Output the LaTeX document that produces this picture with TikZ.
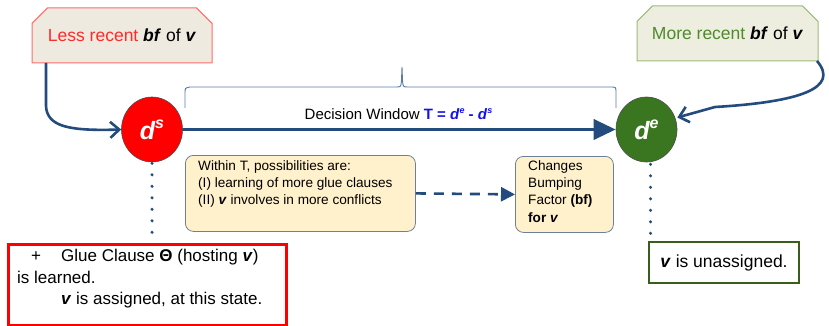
\documentclass[tikz,border=0pt]{standalone}
\usepackage{fontspec}
\setmainfont{Liberation Sans}
\usetikzlibrary{arrows.meta,shapes.misc,shapes.geometric}
\definecolor{navy}{HTML}{234B7E}
\definecolor{bracec}{HTML}{5A7AA6}
\definecolor{lessred}{HTML}{FF2A2A}
\definecolor{lessfill}{HTML}{EEEAE0}
\definecolor{lessborder}{HTML}{FF6B6B}
\definecolor{moregreen}{HTML}{4F8A2B}
\definecolor{morefill}{HTML}{EDEEE0}
\definecolor{moreborder}{HTML}{9CBB7C}
\definecolor{dgreen}{HTML}{3A7620}
\definecolor{boxgreen}{HTML}{375E1B}
\definecolor{yellowfill}{HTML}{FFF1CB}
\definecolor{yellowborder}{HTML}{6E8099}
\definecolor{tblue}{HTML}{1010F0}
\begin{document}
\begin{tikzpicture}[x=1pt,y=-1pt,
  topbox/.style={chamfered rectangle, chamfered rectangle corners={north west,north east},
     chamfered rectangle xsep=9pt, chamfered rectangle ysep=9pt, inner sep=0pt,
     minimum height=55pt, line width=1pt, font=\fontsize{17.5}{20}\selectfont},
  dnode/.style={ellipse, draw=black!70, line width=0.6pt, inner sep=0pt,
     minimum width=61pt, minimum height=65pt, text=white,
     font=\fontsize{25}{27}\selectfont\bfseries\itshape},
  mainarrow/.style={draw=navy, line width=3.6pt, -{Triangle[length=22pt,width=20pt]}},
  curvearrow/.style={draw=navy, line width=2.6pt, -{Straight Barb[length=9pt,width=16pt]}},
  dashedarrow/.style={draw=navy, line width=2.6pt, dash pattern=on 10pt off 8pt,
     -{Triangle[length=14pt,width=14pt]}},
  dotline/.style={draw=navy, line width=3.4pt, line cap=round, dash pattern=on 0pt off 11.5pt},
  ybox/.style={draw=yellowborder, fill=yellowfill, rounded corners=8pt, line width=0.8pt,
     anchor=north west, inner sep=0pt},
  ytext/.style={anchor=north west, align=left, inner sep=0pt,
     font=\fontsize{13.6}{17.4}\selectfont},
  bigtext/.style={font=\fontsize{17}{21.5}\selectfont}
]
\useasboundingbox (0,0) rectangle (829,326);

% top boxes
\node[topbox, draw=lessborder, fill=lessfill, minimum width=180pt] (less) at (122,35.5)
  {\textcolor{lessred}{Less recent} \textbf{\textit{bf}} of \textbf{\textit{v}}};
\node[topbox, draw=moreborder, fill=morefill, minimum width=181pt] (more) at (727.5,33.5)
  {\textcolor{moregreen}{More recent} \textbf{\textit{bf}} of \textbf{\textit{v}}};

% decision nodes
\node[dnode, fill=red] (ds) at (152,129.5) {d\raisebox{0.45em}{\fontsize{16}{16}\selectfont s}};
\node[dnode, fill=dgreen] (de) at (646.5,129.5) {d\raisebox{0.45em}{\fontsize{16}{16}\selectfont e}};

% main arrow
\draw[mainarrow] (ds.east) -- (de.west);

% brace
\draw[draw=bracec, line width=0.9pt]
  (185,108) -- (185,93) .. controls (185,88) .. (190,87) -- (396,87)
  .. controls (401,87) .. (401.5,80) -- (402,67)
  (402,67) -- (402.5,80) .. controls (403,87) .. (408,87) -- (611,87)
  .. controls (616,87) .. (616,93) -- (616,108);

% label
\node[font=\fontsize{15}{17}\selectfont, inner sep=0pt] (dw) at (398.5,114)
  {Decision Window \textcolor{tblue}{\textbf{T = \textit{d}\raisebox{0.4em}{\fontsize{9}{9}\selectfont\textit{e}} - \textit{d}\raisebox{0.4em}{\fontsize{9}{9}\selectfont\textit{s}}}}};

% curved arrows
\coordinate (lstart) at (46,63);
\draw[curvearrow] (lstart) -- (46,106) .. controls (47,127) and (70,131) .. (ds.west);
\coordinate (rstart) at (817,61);
\draw[curvearrow] (rstart) .. controls (840,88) and (800,102) .. (715,107) -- ([yshift=12pt]de.east);

% middle box
\node[ybox, minimum width=230pt, minimum height=76pt] (mid) at (185,155) {};
\node[ytext] (midtext) at (198,160)
  {Within T, possibilities are:\\(I) learning of more glue clauses\\(II) \textbf{\textit{v}} involves in more conflicts};

\node[ybox, minimum width=98pt, minimum height=76pt] (chg) at (515,156) {};
\node[ytext] (chgtext) at (528,160)
  {Changes\\Bumping\\Factor \textbf{(bf)}\\\textbf{for \textit{v}}};

\draw[dashedarrow] (mid.east) -- (chg.west);

% dotted lines
\draw[dotline] ([yshift=-1pt]ds.south) -- (152,235);
\draw[dotline] ([xshift=4pt,yshift=-2pt]de.south) -- (650.5,236);

% bottom boxes
\node[draw=red, line width=2.5pt, fill=white, anchor=north west, minimum width=278pt,
  minimum height=81pt, inner sep=0pt] (lbox) at (7,243) {};
\node[bigtext, anchor=north west, align=left, inner sep=0pt] (ltext) at (17,249)
  {\hspace*{14pt}+\hspace*{20pt}Glue Clause \textbf{Θ} (hosting \textbf{\textit{v}})\\
   is learned.\\
   \hspace*{44pt}\textbf{\textit{v}} is assigned, at this state.};

\node[draw=boxgreen, line width=2.5pt, fill=white, minimum width=150pt, minimum height=41pt,
  inner sep=0pt, font=\fontsize{17.5}{21}\selectfont] (rbox) at (724,262.5) {\textbf{\textit{v}} is unassigned.};
\end{tikzpicture}
\end{document}
